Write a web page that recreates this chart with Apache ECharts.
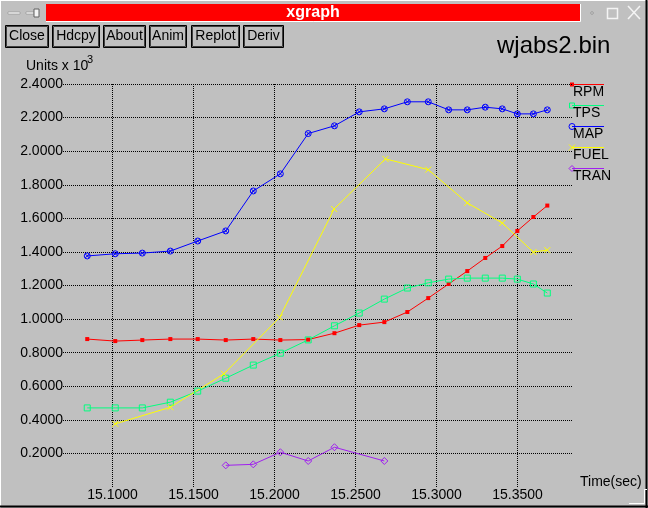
<!DOCTYPE html>
<html>
<head>
<meta charset="utf-8">
<script src="https://cdn.jsdelivr.net/npm/echarts@6/dist/echarts.min.js"></script>
<style>
html,body{margin:0;padding:0;background:#c0c0c0;}
#chart{width:648px;height:508px;}
</style>
</head>
<body>
<div id="chart"></div>
<script>
// ---- data ----
var timeMain = [15.0844, 15.1017, 15.1184, 15.1357, 15.1526, 15.1699, 15.1869, 15.2036, 15.2208, 15.2370, 15.2523,
                15.2678, 15.2820, 15.2949, 15.3075, 15.3190, 15.3301, 15.3406, 15.3499, 15.3598, 15.3684];
var rpm = [0.881, 0.869, 0.875, 0.881, 0.881, 0.875, 0.881, 0.875, 0.878, 0.916, 0.964,
           0.982, 1.042, 1.125, 1.209, 1.286, 1.364, 1.435, 1.525, 1.608, 1.676];
var tps = [0.471, 0.471, 0.471, 0.505, 0.571, 0.648, 0.726, 0.797, 0.876, 0.960, 1.036,
           1.119, 1.185, 1.216, 1.238, 1.244, 1.244, 1.244, 1.238, 1.209, 1.155];
var map = [1.376, 1.389, 1.393, 1.405, 1.465, 1.525, 1.763, 1.865, 2.105, 2.151, 2.234,
           2.252, 2.294, 2.294, 2.246, 2.246, 2.262, 2.252, 2.222, 2.222, 2.246];
var fuelTime = [15.1017, 15.1357, 15.1688, 15.2032, 15.2368, 15.2685, 15.2949, 15.3190, 15.3406, 15.3598, 15.3684];
var fuel = [0.376, 0.475, 0.674, 1.010, 1.656, 1.954, 1.890, 1.692, 1.572, 1.399, 1.411];
var tranTime = [15.1699, 15.1869, 15.2036, 15.2208, 15.2370, 15.2678];
var tran = [0.129, 0.135, 0.207, 0.155, 0.237, 0.155];

var xTicks = [15.10, 15.15, 15.20, 15.25, 15.30, 15.35];
var yTicks = [0.2, 0.4, 0.6, 0.8, 1.0, 1.2, 1.4, 1.6, 1.8, 2.0, 2.2, 2.4];
var seriesNames = ['RPM', 'TPS', 'MAP', 'FUEL', 'TRAN'];
var buttonLabels = ['Close', 'Hdcpy', 'About', 'Anim', 'Replot', 'Deriv'];

// ---- styling ----
var colors = {RPM:'#ff0000', TPS:'#00ff7f', MAP:'#0000ff', FUEL:'#ffff00', TRAN:'#a020f0'};
var FONT = '"Liberation Sans", Arial, Helvetica, sans-serif';
var SYM_MAP = 'path://M10,5A5,5,0,1,1,0,5A5,5,0,1,1,10,5ZM1.6,1.6L8.4,8.4M8.4,1.6L1.6,8.4';
var SYM_X = 'path://M0,0L10,10M10,0L0,10';
var symbols = {
  RPM: {symbol:'rect', size:4, fill:true},
  TPS: {symbol:'rect', size:6, fill:false},
  MAP: {symbol:SYM_MAP, size:6, fill:false},
  FUEL:{symbol:SYM_X, size:6, fill:false},
  TRAN:{symbol:'diamond', size:7, fill:false}
};
function pairs(ts, vs){ return ts.map(function(t,i){ return [t, vs[i]]; }); }
var seriesData = {
  RPM: pairs(timeMain, rpm), TPS: pairs(timeMain, tps), MAP: pairs(timeMain, map),
  FUEL: pairs(fuelTime, fuel), TRAN: pairs(tranTime, tran)
};

function mkSeries(name){
  var s = symbols[name], c = colors[name];
  return {
    name: name, type: 'line', data: seriesData[name],
    symbol: s.symbol, symbolSize: s.size, showAllSymbol: true,
    lineStyle: {color: c, width: 1},
    itemStyle: {color: s.fill ? c : 'rgba(0,0,0,0)', borderColor: c, borderWidth: s.fill ? 0 : 1},
    emphasis: {disabled: true}, silent: true, animation: false, z: 3
  };
}

// ---- window chrome & legend as graphic elements ----
var g = [];
// borders
g.push({type:'line', shape:{x1:0,y1:0.5,x2:648,y2:0.5}, style:{stroke:'#ffffff', lineWidth:1}, silent:true});
g.push({type:'line', shape:{x1:0.5,y1:0,x2:0.5,y2:508}, style:{stroke:'#ffffff', lineWidth:1}, silent:true});
g.push({type:'line', shape:{x1:646.5,y1:0,x2:646.5,y2:508}, style:{stroke:'#000000', lineWidth:2}, silent:true});
g.push({type:'line', shape:{x1:0,y1:506.5,x2:648,y2:506.5}, style:{stroke:'#000000', lineWidth:2}, silent:true});
g.push({type:'polyline', shape:{points:[[629,503.5],[644.5,503.5],[644.5,489.5],[647,489.5]]}, style:{stroke:'#ffffff', fill:null, lineWidth:1}, silent:true});
// title bar
g.push({type:'rect', shape:{x:46,y:4,width:534,height:17}, style:{fill:'#ff0000', stroke:null}, silent:true});
g.push({type:'polyline', shape:{points:[[580.5,4],[580.5,21.5],[46,21.5]]}, style:{stroke:'#ffffff', fill:null, lineWidth:1}, silent:true});
g.push({type:'text', style:{text:'xgraph', x:313, y:13, font:'bold 16px ' + FONT, fill:'#ffffff', textAlign:'center', textVerticalAlign:'middle'}, silent:true});
// left icons
g.push({type:'rect', shape:{x:8,y:12,width:12,height:2}, style:{fill:'#f4f4f4', stroke:'#808080', lineWidth:0.5}, silent:true});
g.push({type:'rect', shape:{x:26,y:12,width:8,height:2}, style:{fill:'#f4f4f4', stroke:'#808080', lineWidth:0.5}, silent:true});
g.push({type:'rect', shape:{x:34,y:9,width:5,height:8}, style:{fill:'#f4f4f4', stroke:'#606060', lineWidth:1}, silent:true});
// right icons
g.push({type:'rect', shape:{x:591,y:12,width:2,height:2}, style:{fill:'#f4f4f4', stroke:'#606060', lineWidth:0.5}, silent:true});
g.push({type:'rect', shape:{x:607.5,y:8.5,width:10,height:10}, style:{fill:null, stroke:'#f4f4f4', lineWidth:1.5}, silent:true});
g.push({type:'polyline', shape:{points:[[628,6],[640,19]]}, style:{stroke:'#f4f4f4', fill:null, lineWidth:1.5}, silent:true});
g.push({type:'polyline', shape:{points:[[640,6],[628,19]]}, style:{stroke:'#f4f4f4', fill:null, lineWidth:1.5}, silent:true});
// buttons
var btnX = [[5,49],[52,100],[103,146],[149,187],[191,240],[243,284]];
buttonLabels.forEach(function(lbl, i){
  var x0 = btnX[i][0], x1 = btnX[i][1];
  g.push({type:'rect', shape:{x:x0+0.5,y:25.5,width:x1-x0-1,height:22}, style:{fill:null, stroke:'#000000', lineWidth:1}, silent:true});
  g.push({type:'rect', shape:{x:x0+1.5,y:26.5,width:x1-x0-3,height:20}, style:{fill:null, stroke:'#404040', lineWidth:1}, silent:true});
  g.push({type:'text', style:{text:lbl, x:(x0+x1)/2, y:36.5, font:'14px ' + FONT, fill:'#000000', textAlign:'center', textVerticalAlign:'middle'}, silent:true});
});
// titles
g.push({type:'text', style:{text:'wjabs2.bin', x:497, y:46, font:'24px ' + FONT, fill:'#000000', textAlign:'left', textVerticalAlign:'middle'}, silent:true});
g.push({type:'text', style:{text:'Units x 10', x:26, y:66, font:'14px ' + FONT, fill:'#000000', textAlign:'left', textVerticalAlign:'middle'}, silent:true});
g.push({type:'text', style:{text:'3', x:87, y:60, font:'11px ' + FONT, fill:'#000000', textAlign:'left', textVerticalAlign:'middle'}, silent:true});
g.push({type:'text', style:{text:'Time(sec)', x:580, y:482, font:'14px ' + FONT, fill:'#000000', textAlign:'left', textVerticalAlign:'middle'}, silent:true});
// legend
seriesNames.forEach(function(name, i){
  var y = 84.5 + i*21, c = colors[name];
  g.push({type:'line', shape:{x1:572,y1:y,x2:604,y2:y}, style:{stroke:c, lineWidth:1}, silent:true});
  var sx = 572;
  if (name === 'RPM') g.push({type:'rect', shape:{x:sx-2,y:y-2,width:4,height:4}, style:{fill:c}, silent:true});
  if (name === 'TPS') g.push({type:'rect', shape:{x:sx-2.5,y:y-2.5,width:5,height:5}, style:{fill:null, stroke:c, lineWidth:1}, silent:true});
  if (name === 'MAP') {
    g.push({type:'circle', shape:{cx:sx,cy:y,r:3}, style:{fill:null, stroke:c, lineWidth:1}, silent:true});
  }
  if (name === 'FUEL') {
    g.push({type:'polyline', shape:{points:[[sx-3,y-3],[sx+3,y+3]]}, style:{stroke:c, fill:null, lineWidth:1}, silent:true});
    g.push({type:'polyline', shape:{points:[[sx+3,y-3],[sx-3,y+3]]}, style:{stroke:c, fill:null, lineWidth:1}, silent:true});
  }
  if (name === 'TRAN') g.push({type:'polygon', shape:{points:[[sx,y-3],[sx+3,y],[sx,y+3],[sx-3,y]]}, style:{fill:null, stroke:c, lineWidth:1}, silent:true});
  g.push({type:'text', style:{text:name, x:573, y:y+8, font:'14px ' + FONT, fill:'#000000', textAlign:'left', textVerticalAlign:'middle'}, silent:true});
});

var gridLine = {show:true, lineStyle:{color:'#000000', width:1, type:[1,1]}};
var chart = echarts.init(document.getElementById('chart'), null, {renderer:'canvas'});
chart.setOption({
  backgroundColor: '#c0c0c0',
  animation: false,
  textStyle: {fontFamily: FONT},
  grid: {left:63, top:84, width:509, height:403, containLabel:false},
  xAxis: {
    type:'value', min:15.06944, max:15.38364,
    axisLine:{show:false},
    axisTick:{show:false, customValues: xTicks},
    axisLabel:{customValues: xTicks, formatter:function(v){ return v.toFixed(4); }, fontSize:14, color:'#000', margin:1, fontFamily: FONT},
    splitLine: gridLine
  },
  yAxis: {
    type:'value', min:0, max:2.4,
    axisLine:{show:false},
    axisTick:{show:false, customValues: yTicks},
    axisLabel:{customValues: yTicks, formatter:function(v){ return v.toFixed(4); }, fontSize:14, color:'#000', margin:0, fontFamily: FONT},
    splitLine: gridLine
  },
  series: seriesNames.map(mkSeries),
  graphic: {elements: g}
});
</script>
</body>
</html>
